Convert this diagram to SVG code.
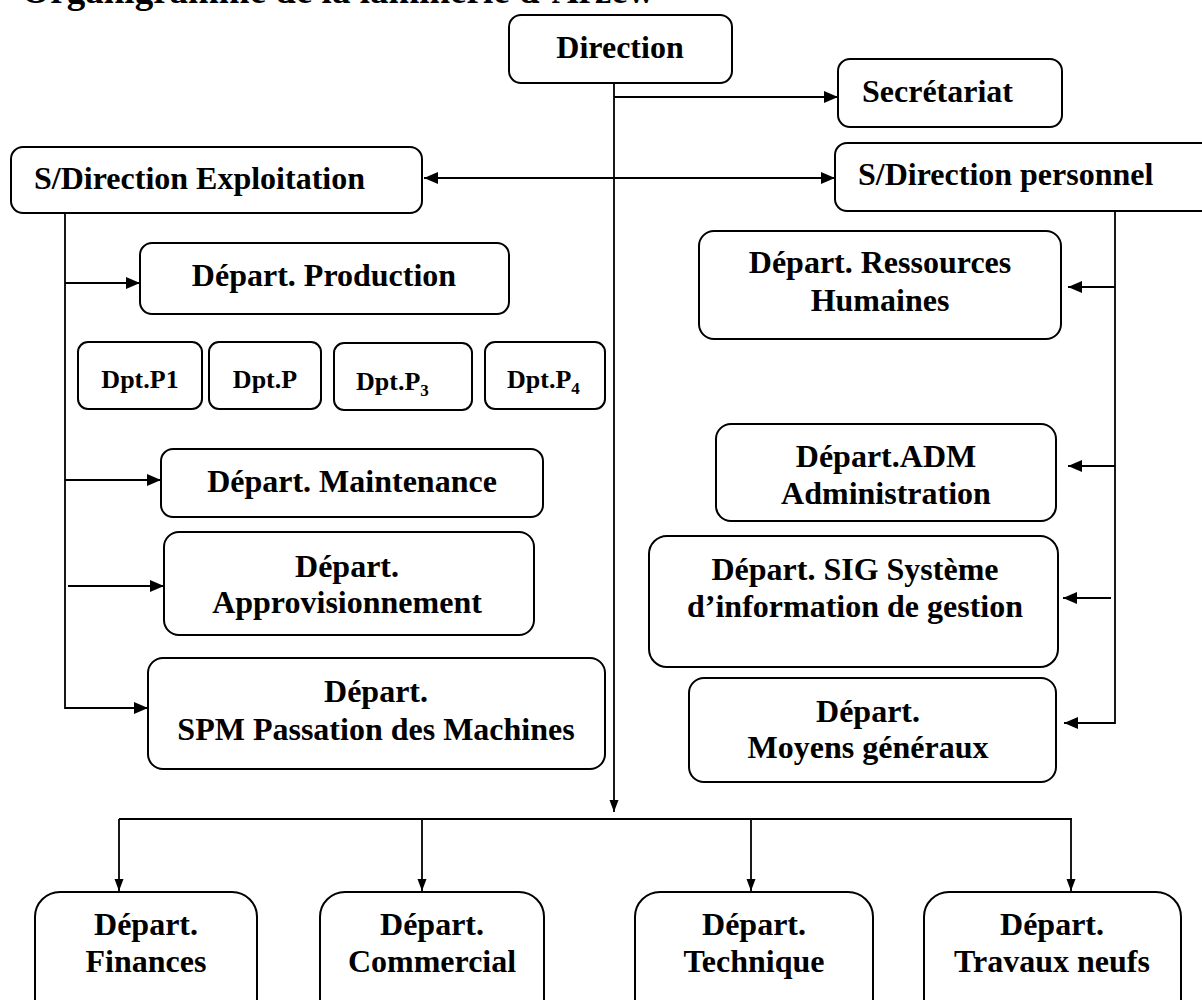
<svg xmlns="http://www.w3.org/2000/svg" width="1202" height="1000" viewBox="0 0 1202 1000">
<style>
  .box{fill:#fff;stroke:#000;stroke-width:2}
  .t{font-family:"Liberation Serif","Times New Roman",serif;font-weight:bold;font-size:32px;fill:#000}
  .c{text-anchor:middle}
  .s{font-size:26px}
  .sub{font-size:17px}
  .ln{fill:none;stroke:#000;stroke-width:1.8}
</style>
<defs>
  <marker id="ah" viewBox="0 0 14 12" refX="14" refY="6" markerWidth="14" markerHeight="12" markerUnits="userSpaceOnUse" orient="auto-start-reverse">
    <path d="M0,0 L14,6 L0,12 z" fill="#000"/>
  </marker>
  <marker id="ahb" viewBox="0 0 12 16" refX="16" refY="6" markerWidth="16" markerHeight="12" markerUnits="userSpaceOnUse" orient="auto">
    <path d="M0,0 L16,6 L0,12 z" fill="#000"/>
  </marker>
</defs>

<text class="t" x="0" y="3" style="font-size:37px">- Organigramme de la laminerie d’Arzew</text>

<g id="connectors">
  <path class="ln" d="M614,77 V812" marker-end="url(#ahb)"/>
  <path class="ln" d="M614,97 H838" marker-end="url(#ah)"/>
  <path class="ln" d="M424,178 H835" marker-start="url(#ah)" marker-end="url(#ah)"/>
  <path class="ln" d="M65,213 V708 H148" marker-end="url(#ah)"/>
  <path class="ln" d="M65,283 H140" marker-end="url(#ah)"/>
  <path class="ln" d="M65,480 H161" marker-end="url(#ah)"/>
  <path class="ln" d="M68,586 H164" marker-end="url(#ah)"/>
  <path class="ln" d="M1115,211 V723 H1064" marker-end="url(#ah)"/>
  <path class="ln" d="M1115,287 H1068" marker-end="url(#ah)"/>
  <path class="ln" d="M1115,466 H1068" marker-end="url(#ah)"/>
  <path class="ln" d="M1111,598 H1063" marker-end="url(#ah)"/>
  <path class="ln" d="M119,819 H1072"/>
  <path class="ln" d="M119,819 V891" marker-end="url(#ahb)"/>
  <path class="ln" d="M422,819 V891" marker-end="url(#ahb)"/>
  <path class="ln" d="M751,819 V891" marker-end="url(#ahb)"/>
  <path class="ln" d="M1071,819 V891" marker-end="url(#ahb)"/>
</g>

<g id="direction">
  <rect class="box" x="509" y="15" width="223" height="68" rx="12"/>
  <text class="t c" x="620" y="58">Direction</text>
</g>
<g id="secretariat">
  <rect class="box" x="838" y="59" width="224" height="68" rx="12"/>
  <text class="t" x="862" y="102">Secrétariat</text>
</g>
<g id="sdir-exploitation">
  <rect class="box" x="11" y="147" width="411" height="66" rx="12"/>
  <text class="t" x="34" y="189">S/Direction Exploitation</text>
</g>
<g id="sdir-personnel">
  <rect class="box" x="835" y="143" width="400" height="68" rx="12"/>
  <text class="t" x="858" y="185">S/Direction personnel</text>
</g>
<g id="dep-production">
  <rect class="box" x="140" y="243" width="369" height="71" rx="12"/>
  <text class="t c" x="324" y="286">Départ. Production</text>
</g>
<g id="dpt-p1">
  <rect class="box" x="78" y="342" width="124" height="67" rx="10"/>
  <text class="t s c" x="140" y="388">Dpt.P1</text>
</g>
<g id="dpt-p">
  <rect class="box" x="209" y="342" width="112" height="67" rx="10"/>
  <text class="t s c" x="265" y="388">Dpt.P</text>
</g>
<g id="dpt-p3">
  <rect class="box" x="334" y="343" width="138" height="67" rx="10"/>
  <text class="t s" x="356" y="390">Dpt.P<tspan class="sub" dy="6">3</tspan></text>
</g>
<g id="dpt-p4">
  <rect class="box" x="485" y="342" width="120" height="67" rx="10"/>
  <text class="t s" x="507" y="388">Dpt.P<tspan class="sub" dy="6">4</tspan></text>
</g>
<g id="dep-maintenance">
  <rect class="box" x="161" y="449" width="382" height="68" rx="12"/>
  <text class="t c" x="352" y="492">Départ. Maintenance</text>
</g>
<g id="dep-approvisionnement">
  <rect class="box" x="164" y="532" width="370" height="103" rx="15"/>
  <text class="t c" x="347" y="577">Départ.</text>
  <text class="t c" x="347" y="613">Approvisionnement</text>
</g>
<g id="dep-spm">
  <rect class="box" x="148" y="658" width="457" height="111" rx="15"/>
  <text class="t c" x="376" y="702">Départ.</text>
  <text class="t c" x="376" y="740">SPM Passation des Machines</text>
</g>
<g id="dep-rh">
  <rect class="box" x="699" y="231" width="362" height="108" rx="15"/>
  <text class="t c" x="880" y="273">Départ. Ressources</text>
  <text class="t c" x="880" y="311">Humaines</text>
</g>
<g id="dep-adm">
  <rect class="box" x="716" y="424" width="340" height="97" rx="15"/>
  <text class="t c" x="886" y="467">Départ.ADM</text>
  <text class="t c" x="886" y="504">Administration</text>
</g>
<g id="dep-sig">
  <rect class="box" x="649" y="536" width="409" height="131" rx="18"/>
  <text class="t c" x="855" y="580">Départ. SIG Système</text>
  <text class="t c" x="855" y="617">d’information de gestion</text>
</g>
<g id="dep-moyens">
  <rect class="box" x="689" y="678" width="367" height="104" rx="15"/>
  <text class="t c" x="868" y="722">Départ.</text>
  <text class="t c" x="868" y="758">Moyens généraux</text>
</g>
<g id="dep-finances">
  <rect class="box" x="35" y="892" width="222" height="140" rx="25"/>
  <text class="t c" x="146" y="935">Départ.</text>
  <text class="t c" x="146" y="972">Finances</text>
</g>
<g id="dep-commercial">
  <rect class="box" x="320" y="892" width="224" height="140" rx="25"/>
  <text class="t c" x="432" y="935">Départ.</text>
  <text class="t c" x="432" y="972">Commercial</text>
</g>
<g id="dep-technique">
  <rect class="box" x="635" y="892" width="238" height="140" rx="25"/>
  <text class="t c" x="754" y="935">Départ.</text>
  <text class="t c" x="754" y="972">Technique</text>
</g>
<g id="dep-travaux">
  <rect class="box" x="924" y="892" width="257" height="140" rx="25"/>
  <text class="t c" x="1052" y="935">Départ.</text>
  <text class="t c" x="1052" y="972">Travaux neufs</text>
</g>
</svg>
